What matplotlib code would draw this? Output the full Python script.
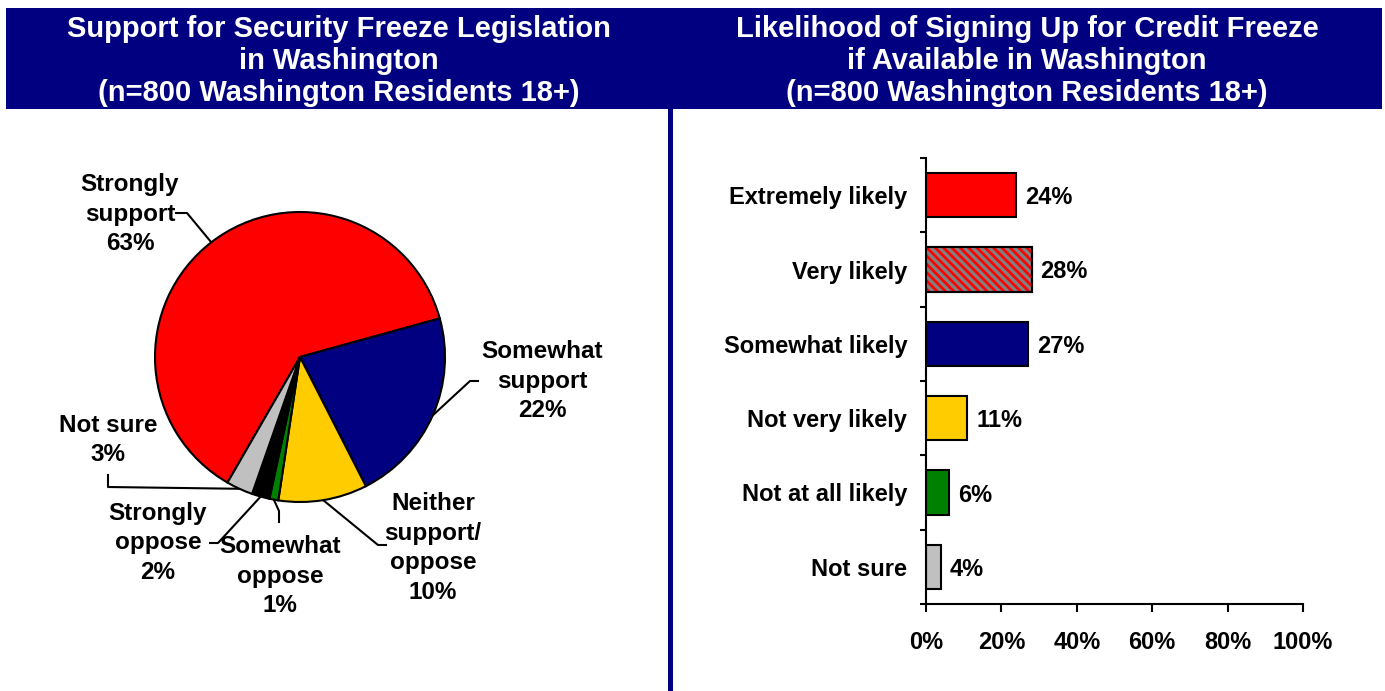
import numpy as np
import matplotlib
matplotlib.use("Agg")
import matplotlib.pyplot as plt
from matplotlib.patches import Rectangle

plt.rcParams['font.family'] = ['Liberation Sans', 'DejaVu Sans']
plt.rcParams['font.weight'] = 'bold'
plt.rcParams['hatch.linewidth'] = 2.3

W, H = 1385, 691
NAVY = '#000080'

# support for security freeze legislation (pie)
support_labels = ['Strongly\nsupport', 'Somewhat\nsupport', 'Neither\nsupport/\noppose',
                  'Somewhat\noppose', 'Strongly\noppose', 'Not sure']
support_pcts = [63, 22, 10, 1, 2, 3]
support_colors = ['#FF0000', NAVY, '#FFCC00', '#008000', '#000000', '#C0C0C0']

# likelihood of signing up (bars)
likely_labels = ['Extremely likely', 'Very likely', 'Somewhat likely',
                 'Not very likely', 'Not at all likely', 'Not sure']
likely_pcts = [24, 28, 27, 11, 6, 4]
likely_colors = ['#FF0000', '#FF0000', NAVY, '#FFCC00', '#008000', '#C0C0C0']
x_ticks = [0, 20, 40, 60, 80, 100]

# pie label placement (pixels from top-left), leader knee and leader end
label_pos = [(130, 214), (542, 381), (433, 548), (280, 576), (158, 543), (108, 440)]
leader_knee = [(187, 213), (470, 381), (378, 545), (279, 511), (218, 543), (108, 487)]
leader_end = [(176, 213), (478, 381), (386, 545), (279, 522), (210, 543), (108, 475)]

fig = plt.figure(figsize=(W / 100, H / 100), dpi=100)

# overlay in pixel coords for headers, divider and pie labels
ov = fig.add_axes([0, 0, 1, 1], zorder=0)
ov.set_xlim(0, W)
ov.set_ylim(H, 0)
ov.axis('off')

ov.add_patch(Rectangle((6, 8), 1376, 101, color=NAVY, lw=0))
ov.add_patch(Rectangle((668, 109), 5, 582, color=NAVY, lw=0))
ov.text(339, 61, 'Support for Security Freeze Legislation\nin Washington\n(n=800 Washington Residents 18+)',
        ha='center', va='center', color='white', fontsize=21, linespacing=1.2)
ov.text(1027, 61, 'Likelihood of Signing Up for Credit Freeze\nif Available in Washington\n(n=800 Washington Residents 18+)',
        ha='center', va='center', color='white', fontsize=21, linespacing=1.2)

# pie
cx, cy, R = 300, 357, 145
side = 2.5 * R
pax = fig.add_axes([(cx - side / 2) / W, (H - cy - side / 2) / H, side / W, side / H], zorder=1)
wedges, _ = pax.pie(support_pcts, colors=support_colors, startangle=240, counterclock=False,
                    wedgeprops=dict(edgecolor='black', linewidth=1.5))

to_px = lambda p: ov.transData.inverted().transform(pax.transData.transform(p))
for w, lab, pct, lp, kn, en in zip(wedges, support_labels, support_pcts, label_pos, leader_knee, leader_end):
    mid = np.deg2rad((w.theta1 + w.theta2) / 2)
    ex, ey = to_px((np.cos(mid), np.sin(mid)))
    ov.plot([ex, kn[0], en[0]], [ey, kn[1], en[1]], color='black', lw=1.5, zorder=3)
    ov.text(lp[0], lp[1], f'{lab}\n{pct}%', ha='center', va='center', fontsize=17.5,
            linespacing=1.38, zorder=4)

# bars
bax = fig.add_axes([926 / W, (H - 604) / H, (1303 - 926) / W, (604 - 158) / H], zorder=1)
y = np.arange(len(likely_pcts))
bax.barh(y, likely_pcts, height=0.6, color=likely_colors, edgecolor='black', lw=1.5, zorder=2)
bax.barh(y[1], likely_pcts[1], height=0.6, color='none', edgecolor='#808080',
         hatch='\\\\\\\\', lw=0, zorder=3)
bax.barh(y[1], likely_pcts[1], height=0.6, color='none', edgecolor='black', lw=1.5, zorder=4)
for i, v in enumerate(likely_pcts):
    bax.annotate(f'{v}%', xy=(v, i), xytext=(6.5, 0), textcoords='offset points',
                 ha='left', va='center_baseline', fontsize=17)

bax.set_xlim(0, 100)
bax.set_ylim(5.5, -0.5)
bax.set_yticks(y)
bax.set_yticklabels(likely_labels, fontsize=17)
bax.set_yticks(np.arange(-0.5, 6, 1), minor=True)
bax.set_xticks(x_ticks)
bax.set_xticklabels([f'{t}%' for t in x_ticks], fontsize=17)
bax.tick_params(axis='y', which='major', length=0, pad=13.5)
bax.tick_params(axis='y', which='minor', length=4.5, width=1.5)
bax.tick_params(axis='x', length=5.5, width=1.5, pad=14)
for s in ['top', 'right']:
    bax.spines[s].set_visible(False)
for s in ['left', 'bottom']:
    bax.spines[s].set_linewidth(1.5)
bax.set_facecolor('none')

fig.savefig('out.png', dpi=100)
